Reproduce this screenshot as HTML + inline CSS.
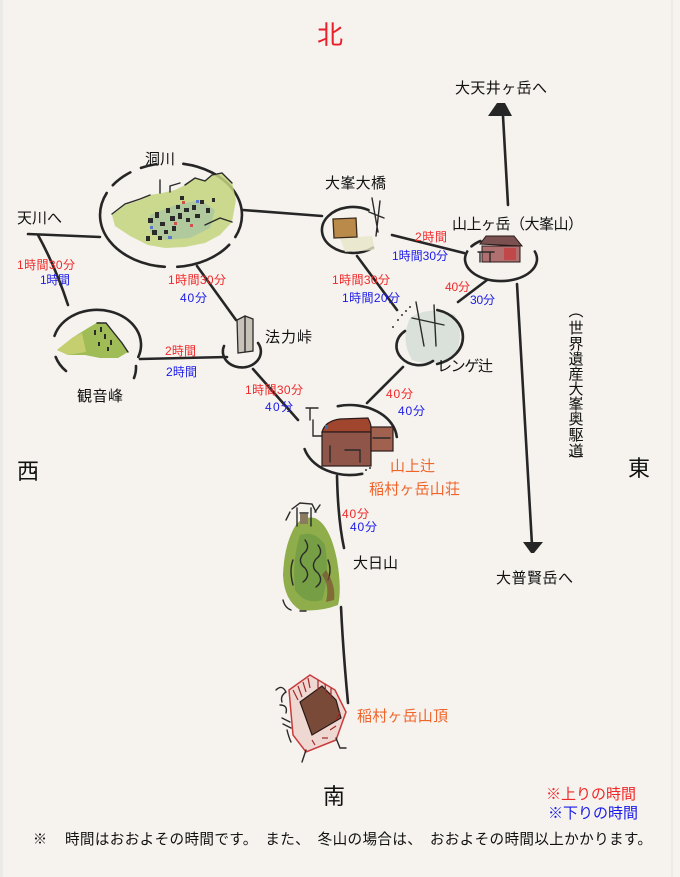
<!DOCTYPE html>
<html><head><meta charset="utf-8">
<style>
html,body{margin:0;padding:0;background:#f6f3ef;}
svg{display:block;}
text{font-family:"Liberation Sans","Noto Sans CJK JP",sans-serif;}
.l{font-size:15px;fill:#111;}
.r{font-size:12px;fill:#f02828;}
.b{font-size:12px;fill:#1a1ae8;}
.o{font-size:15px;fill:#f0642a;}
.d{font-size:22px;fill:#111;}
.ln{fill:none;stroke:#262626;stroke-width:2.6;stroke-linecap:round;}
.ink{fill:none;stroke:#2a2a2a;stroke-width:1.4;stroke-linecap:round;}
</style></head>
<body>
<svg width="680" height="877" viewBox="0 0 680 877" xmlns="http://www.w3.org/2000/svg">
<rect x="0" y="0" width="680" height="877" fill="#f6f3ef"/>
<rect x="0" y="0" width="3" height="877" fill="#eceae6"/>
<line x1="672" y1="0" x2="672" y2="877" stroke="#e6e3df" stroke-width="1"/>

<!-- connectors -->
<path class="ln" d="M28,234 L100,237"/>
<path class="ln" d="M38,235 Q56,268 68,305"/>
<path class="ln" d="M197,266 L236,320"/>
<path class="ln" d="M243,210 L322,216"/>
<path class="ln" d="M392,235 L464,253"/>
<path class="ln" d="M357,256 L397,310"/>
<path class="ln" d="M487,280 L458,302"/>
<path class="ln" d="M508,205 L503,116"/>
<polygon points="497,103 505,103 512,116 488,116" fill="#262626"/>
<path class="ln" d="M517,284 L532,545"/>
<polygon points="523,542 543,542 534,553 531,553" fill="#262626"/>
<path class="ln" d="M140,359 L227,357"/>
<path class="ln" d="M253,369 L298,420"/>
<path class="ln" d="M403,367 L367,403"/>
<path class="ln" d="M337,476 Q338,520 344,548"/>
<path class="ln" d="M341,607 Q343,650 348,703"/>

<!-- 洞川 ellipse -->
<path class="ln" d="M183.3,163.8 A71,52 0 0 1 235.3,237"/>
<path class="ln" d="M229.2,244.8 A71,52 0 0 1 177.2,266.8"/>
<path class="ln" d="M164.8,266.8 A71,52 0 0 1 106.7,193"/>
<path class="ln" d="M112.8,185.2 A71,52 0 0 1 130.3,172.4"/>
<path class="ln" d="M141,167.9 A71,52 0 0 1 156.2,164.1"/>
<!-- 洞川 village -->
<path d="M112,215 L125,205 L140,200 L150,195 L162,193 L175,190 L185,185 L195,178 L205,180 L212,175 L222,173 L232,182 L236,200 L232,222 L220,235 L205,243 L185,247 L165,248 L148,245 L130,236 L115,226 Z" fill="#c3d37e" opacity="0.85"/>
<path d="M150,215 L175,205 L200,200 L215,210 L210,228 L190,238 L165,240 L150,232 Z" fill="#9fc0a8" opacity="0.6"/>
<path class="ink" d="M112,214 L125,204 L140,199 L150,195 M185,185 L195,178 L205,181 L212,175 L222,173 L232,183 M205,225 L220,218 L232,222"/>
<path class="ink" d="M160,193 L160,180 M170,192 L170,186 L180,183"/>
<g fill="#2a2a2a">
<rect x="148" y="218" width="5" height="5"/><rect x="155" y="212" width="4" height="6"/><rect x="160" y="222" width="5" height="4"/>
<rect x="166" y="208" width="4" height="5"/><rect x="170" y="216" width="5" height="5"/><rect x="176" y="205" width="4" height="4"/>
<rect x="178" y="213" width="4" height="6"/><rect x="184" y="208" width="5" height="4"/><rect x="186" y="218" width="4" height="4"/>
<rect x="192" y="205" width="4" height="5"/><rect x="195" y="214" width="5" height="4"/><rect x="200" y="200" width="4" height="4"/>
<rect x="206" y="208" width="4" height="5"/><rect x="152" y="230" width="5" height="5"/><rect x="158" y="236" width="4" height="4"/>
<rect x="164" y="230" width="4" height="4"/><rect x="172" y="226" width="4" height="5"/><rect x="146" y="236" width="4" height="5"/>
<rect x="180" y="196" width="4" height="4"/><rect x="212" y="198" width="3" height="4"/>
</g>
<g fill="#d05050"><rect x="182" y="201" width="3" height="3"/><rect x="174" y="222" width="3" height="3"/><rect x="190" y="224" width="3" height="3"/></g>
<g fill="#5a7ad0"><rect x="150" y="226" width="3" height="3"/><rect x="168" y="236" width="4" height="3"/><rect x="196" y="200" width="3" height="3"/></g>

<!-- 大峯大橋 -->
<path class="ln" d="M368.5,210.1 A31,23 0 1 0 372.9,247.6"/>
<path d="M340,238 L372,236 L375,250 L345,252 Z" fill="#e7e6c8" opacity="0.8"/>
<path d="M333,219 L356,218 L357,237 L334,238 Z" fill="#b98a4a" stroke="#3a2a1a" stroke-width="1.3"/>
<path class="ink" d="M372,198 L378,232 M380,201 L376,236 M369,212 L384,218"/>

<!-- 山上ヶ岳 -->
<path class="ln" d="M467.2,251.5 A36,22 0 1 0 534.8,251.5"/>
<path class="ln" d="M471.5,246.4 A36,22 0 0 1 480.4,241"/>
<path d="M480,244 L486,236 L514,236 L522,246 Z" fill="#7a5050" stroke="#2a1a1a" stroke-width="1"/>
<rect x="482" y="246" width="38" height="16" fill="#b07070" stroke="#2a1a1a" stroke-width="1"/>
<rect x="504" y="248" width="12" height="12" fill="#c04848"/>
<path class="ink" d="M478,252 L494,252 M480,252 L480,262 M490,252 L490,262"/>

<!-- レンゲ辻 -->
<path d="M410,318 Q430,305 455,315 Q465,335 455,355 Q435,368 412,360 Q400,340 410,318 Z" fill="#d5ddd6" opacity="0.85"/>
<path class="ln" d="M437.3,310 A35,28 0 0 1 437.1,364"/>
<path class="ln" d="M433,361 A20,17 0 0 1 405,331"/>
<path class="ink" d="M416,302 L424,346 M434,305 L436,346 M412,318 L444,325" stroke="#4a3a30" stroke-width="2.2"/>
<g fill="#333"><circle cx="398" cy="320" r="1"/><circle cx="402" cy="315" r="1"/><circle cx="406" cy="311" r="1"/><circle cx="410" cy="307" r="1"/><circle cx="393" cy="327" r="1"/></g>

<!-- 観音峰 -->
<path class="ln" d="M54.5,335.9 A44,35 0 1 1 138.3,357"/>
<path class="ln" d="M55.7,357 A44,35 0 0 0 66,371"/>
<path class="ln" d="M136,366 A44,35 0 0 1 134,378"/>
<path d="M57,350 L72,338 L88,328 L98,322 L106,323 L114,333 L122,343 L128,352 L118,358 L100,358 L85,355 L68,355 Z" fill="#9fbc56"/>
<path d="M57,350 L72,338 L82,333 L86,352 L68,355 Z" fill="#c6cf70"/>
<path class="ink" d="M97,323 L106,323 L114,333 L122,343 L128,352"/>
<g fill="#2a2a2a"><rect x="94" y="330" width="2" height="5"/><rect x="100" y="327" width="2" height="5"/><rect x="104" y="334" width="2" height="5"/><rect x="110" y="340" width="2" height="5"/><rect x="98" y="342" width="2" height="4"/><rect x="107" y="347" width="2" height="4"/></g>

<!-- 法力峠 -->
<path class="ln" d="M224,346 A19,16 0 1 0 258,343"/>
<path d="M237,320 L245,316 L253,319 L253,351 L238,353 Z" fill="#c9c2b8" stroke="#2a2a2a" stroke-width="1.3"/>
<path class="ink" d="M245,316 L245,352"/>

<!-- 山上辻 -->
<path class="ln" d="M337.8,406.2 A47,35 0 0 1 396.8,437"/>
<path class="ln" d="M304.6,449.1 A47,35 0 0 0 362.2,473.8"/>
<path class="ink" d="M310,408 L310,420 M306,408 L318,408 M313,420 L313,436 L322,436" stroke="#777" stroke-width="2"/>
<path d="M322,432 Q325,421 340,419 L368,418 Q372,425 371,432 Z" fill="#a0452e" stroke="#2a1a1a" stroke-width="1.2"/>
<rect x="322" y="432" width="49" height="34" fill="#8e5548" stroke="#2a1a1a" stroke-width="1.2"/>
<rect x="371" y="427" width="22" height="24" fill="#a0624f" stroke="#2a1a1a" stroke-width="1.2"/>
<rect x="325" y="425" width="3" height="4" fill="#4a6a9a"/>
<path class="ink" d="M330,446 L330,462 M345,450 L360,450 L360,462 M373,438 L390,438"/>
<g fill="#333"><circle cx="366" cy="470" r="1"/><circle cx="370" cy="468" r="1"/></g>

<!-- 大日山 -->
<path d="M293,530 Q300,515 315,518 Q330,525 337,560 Q342,590 338,605 Q320,612 300,610 Q284,600 283,575 Q284,548 293,530 Z" fill="#8fad4a"/>
<path d="M300,535 Q315,530 325,545 Q330,575 322,600 Q305,605 295,590 Q292,560 300,535 Z" fill="#6f9a42" opacity="0.8"/>
<path class="ink" d="M305,540 q6,8 -2,14 q-6,8 2,14 q6,8 -2,14 M318,545 q6,8 -2,14 q-6,8 2,14 q6,8 -2,14 M328,560 q4,10 0,20 M293,560 q-4,10 0,25" stroke-width="1.6"/>
<path d="M326,570 Q336,585 334,600 L326,602 Q330,585 322,575 Z" fill="#7a5030" opacity="0.7"/>
<path class="ink" d="M292,509 L300,503 L312,504 L316,512 M297,508 L297,526 M311,508 L311,526 M300,513 L308,513 M286,520 L290,512" stroke-width="1.8"/>
<rect x="300" y="514" width="8" height="10" fill="#8a7a60"/>
<path class="ink" d="M315,512 L320,505 M283,600 q2,8 8,10 M300,611 l6,0"/>

<!-- 稲村ヶ岳山頂 -->
<path d="M289,690 L310,675 L335,690 L346,712 L336,740 L306,752 L293,735 Z" fill="#f0d8d2" stroke="#c83c3c" stroke-width="1.5"/>
<path d="M300,702 L322,686 L336,700 L341,718 L312,735 Z" fill="#7a4a38" stroke="#2a1a1a" stroke-width="1.2"/>
<g stroke="#a02828" stroke-width="1.2">
<line x1="293" y1="690" x2="298" y2="700"/><line x1="298" y1="686" x2="302" y2="697"/><line x1="303" y1="682" x2="306" y2="692"/><line x1="308" y1="678" x2="310" y2="688"/>
<line x1="318" y1="680" x2="318" y2="690"/><line x1="325" y1="684" x2="326" y2="694"/><line x1="331" y1="688" x2="331" y2="698"/>
<line x1="340" y1="712" x2="336" y2="720"/><line x1="336" y1="726" x2="330" y2="730"/><line x1="328" y1="738" x2="322" y2="738"/><line x1="315" y1="745" x2="312" y2="740"/>
</g>
<path class="ink" d="M276,690 q6,-6 10,2 q-6,4 -4,10 M280,705 q8,0 6,8 M282,718 l8,4 M283,724 l8,4 M287,730 q2,8 4,12 M306,750 l-4,12 M336,738 l4,10 l6,0" stroke-width="1.6"/>

<!-- labels -->
<text x="317" y="44" style="font-size:26px;fill:#e8202a;">北</text>
<text class="l" x="145" y="164">洞川</text>
<text class="l" x="17" y="223">天川へ</text>
<text class="l" x="325" y="188" textLength="61">大峯大橋</text>
<text class="l" x="452" y="229" textLength="131">山上ヶ岳（大峯山）</text>
<text class="l" x="455" y="93" textLength="92">大天井ヶ岳へ</text>
<text class="l" x="265" y="342" textLength="47">法力峠</text>
<text class="l" x="77" y="401" textLength="46">観音峰</text>
<text class="l" x="437" y="371" textLength="56">レンゲ辻</text>
<text class="o" x="390" y="471" textLength="45">山上辻</text>
<text class="o" x="369" y="494" textLength="91">稲村ヶ岳山荘</text>
<text class="l" x="353" y="568" textLength="45">大日山</text>
<text class="o" x="357" y="721" textLength="91">稲村ヶ岳山頂</text>
<text class="l" x="496" y="583" textLength="77">大普賢岳へ</text>
<text class="d" x="17" y="479">西</text>
<text class="d" x="628" y="476">東</text>
<text class="d" x="323" y="804">南</text>

<g class="l" text-anchor="middle">
<text x="576" y="316">︵</text>
<text x="576" y="333">世</text>
<text x="576" y="349">界</text>
<text x="576" y="364">遺</text>
<text x="576" y="379">産</text>
<text x="576" y="394">大</text>
<text x="576" y="409">峯</text>
<text x="576" y="424">奥</text>
<text x="576" y="440">駆</text>
<text x="576" y="456">道</text>
<text x="576" y="466">︶</text>
</g>

<!-- times -->
<text class="r" x="17" y="269" textLength="58">1時間30分</text>
<text class="b" x="40" y="284" textLength="30">1時間</text>
<text class="r" x="168" y="284" textLength="58">1時間30分</text>
<text class="b" x="180" y="302" textLength="27">40分</text>
<text class="r" x="415" y="241" textLength="32">2時間</text>
<text class="b" x="392" y="260" textLength="56">1時間30分</text>
<text class="r" x="332" y="284" textLength="58">1時間30分</text>
<text class="b" x="342" y="302" textLength="58">1時間20分</text>
<text class="r" x="445" y="291" textLength="25">40分</text>
<text class="b" x="470" y="304" textLength="25">30分</text>
<text class="r" x="165" y="355" textLength="31">2時間</text>
<text class="b" x="166" y="376" textLength="31">2時間</text>
<text class="r" x="245" y="394" textLength="58">1時間30分</text>
<text class="b" x="265" y="411" textLength="28">40分</text>
<text class="r" x="386" y="398" textLength="27">40分</text>
<text class="b" x="398" y="415" textLength="27">40分</text>
<text class="r" x="342" y="518" textLength="27">40分</text>
<text class="b" x="350" y="531" textLength="27">40分</text>

<text x="546" y="799" style="font-size:15px;fill:#f02828;">※上りの時間</text>
<text x="548" y="818" style="font-size:15px;fill:#1a1ae8;">※下りの時間</text>
<text x="33" y="844" style="font-size:14px;fill:#111;">※</text>
<text x="65" y="844" textLength="587" style="font-size:14.6px;fill:#111;">時間はおおよその時間です。　また、　冬山の場合は、　おおよその時間以上かかります。</text>
</svg>
</body></html>
